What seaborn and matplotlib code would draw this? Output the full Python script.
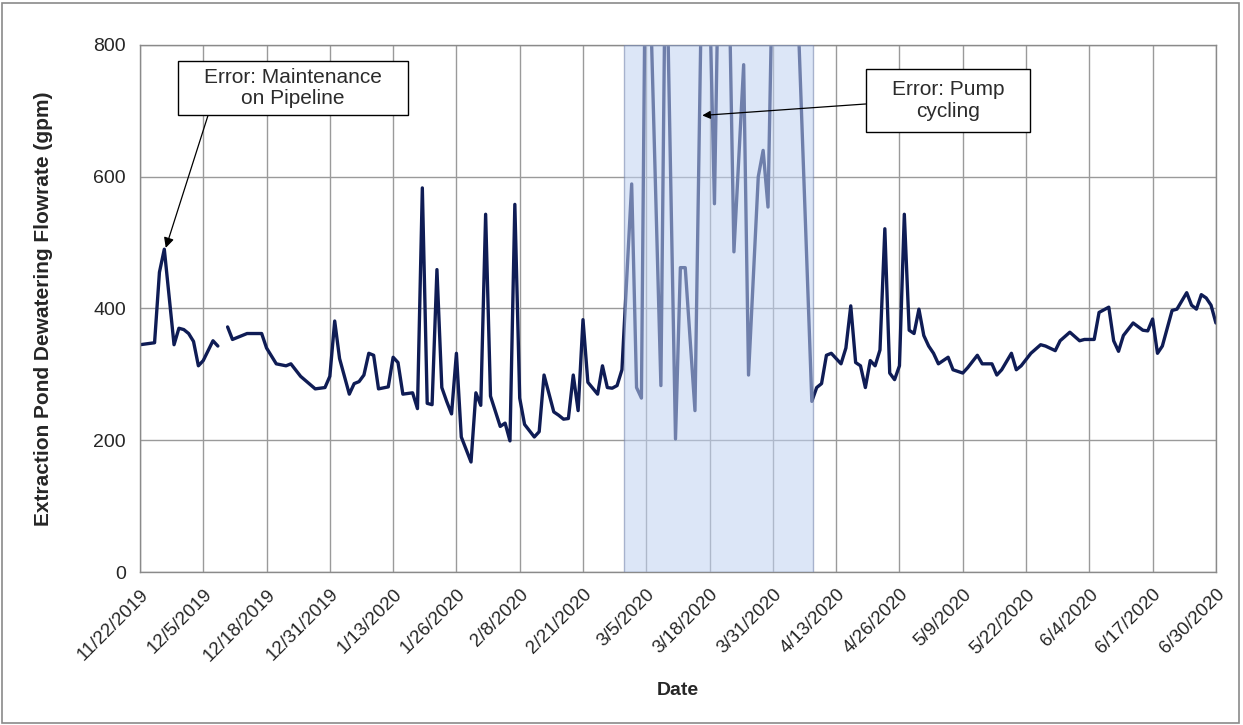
import numpy as np
import pandas as pd
import matplotlib
matplotlib.use("Agg")
import matplotlib.pyplot as plt
from matplotlib.patches import Rectangle
import seaborn as sns

# days after 11/22/2019 and the flowrate read at each vertex (NaN = no data)
START = pd.Timestamp("2019-11-22")
DAY = [0, 3, 4, 5, 7, 8, 9, 10, 11, 12, 13, 15, 16, 17,
       18, 19, 22, 25, 26, 28, 30, 31, 33, 36, 38, 39, 40, 41, 43, 44,
       45, 46, 47, 48, 49, 51, 52, 53, 54, 56, 57, 58, 59, 60, 61, 62,
       63, 64, 65, 66, 68, 69, 70, 71, 72, 74, 75, 76, 77, 78, 79, 81,
       82, 83, 85, 86, 87, 88, 89, 90, 91, 92, 94, 95, 96, 97, 98, 99,
       101, 102, 103, 104, 107, 108, 110, 111, 112, 114, 116, 118, 119,
       121, 122, 124, 125, 127, 128, 129, 130, 133, 135, 138, 139, 140,
       141, 142, 144, 145, 146, 147, 148, 149, 150, 151, 152, 153, 154,
       155, 156, 157, 158, 159, 160, 161, 162, 163, 164, 166, 167, 169,
       170, 172, 173, 175, 176, 177, 179, 180, 181, 183, 185, 186, 188,
       189, 191, 193, 194, 196, 197, 199, 200, 201, 202, 204, 206, 207,
       208, 209, 210, 211, 212, 213, 215, 216, 217, 218, 219, 220, 221]
FLOW = [345, 348, 455, 490, 345, 370, 368, 362, 350, 313, 321, 351, 343, np.nan,
        372, 353, 362, 362, 340, 316, 313, 316, 297, 278, 280, 297, 381, 324, 270, 286,
        289, 299, 332, 329, 278, 281, 326, 318, 270, 272, 248, 583, 256, 254, 459, 280,
        259, 240, 332, 205, 167, 272, 253, 543, 267, 221, 226, 199, 558, 264, 224, 205,
        213, 299, 243, 238, 232, 233, 299, 245, 383, 288, 270, 313, 280, 279, 283, 307,
        589, 280, 264, 1100, 283, 1000, 202, 462, 462, 245, 1200, 559, 1000,
        900, 486, 770, 299, 600, 640, 554, 950, 1100, 880, 259, 280, 286,
        329, 332, 316, 340, 404, 318, 313, 280, 321, 313, 337, 521, 302,
        292, 313, 543, 367, 362, 399, 359, 343, 332, 316, 326, 307, 302,
        310, 329, 316, 316, 299, 307, 332, 307, 313, 332, 345, 343, 336,
        351, 364, 351, 353, 353, 394, 402, 351, 335, 359, 378, 367, 366,
        384, 332, 343, 370, 397, 399, 424, 405, 399, 421, 416, 405, 378]

ERROR_START = "2020-02-29 08:00"
ERROR_END = "2020-04-08 08:00"
END = pd.Timestamp("2020-06-30")

df = pd.DataFrame({"Date": START + pd.to_timedelta(DAY, unit="D"), "Flow": FLOW})
# split at the missing reading so the line breaks there
df["seg"] = df["Flow"].isna().cumsum()
df = df.dropna()

sns.set_style("white")
plt.rcParams["font.family"] = ["Liberation Sans", "DejaVu Sans"]

fig = plt.figure(figsize=(12.43, 7.25), dpi=100)
ax = fig.add_axes([0.1126, 0.211, 0.8656, 0.727])

navy = "#0f1c55"
for _, part in df.groupby("seg"):
    sns.lineplot(data=part, x="Date", y="Flow", ax=ax, color=navy,
                 linewidth=2.4, estimator=None, zorder=2)

# shaded period, drawn over the line so it looks faded
ax.axvspan(pd.Timestamp(ERROR_START), pd.Timestamp(ERROR_END),
           facecolor="#c0d2f2", alpha=0.55, edgecolor="#6f7fa8",
           linewidth=1.0, zorder=3)

ax.set_ylim(0, 800)
ax.set_xlim(START, END)
ax.set_yticks([0, 200, 400, 600, 800])
ticks = pd.date_range(START, END, freq="13D")
ax.set_xticks(ticks)
ax.set_xticklabels([f"{d.month}/{d.day}/{d.year}" for d in ticks],
                   rotation=45, ha="right", rotation_mode="anchor", fontsize=13.5)
ax.tick_params(axis="y", labelsize=14)
ax.tick_params(direction="out", length=6, width=1, color="#808080", pad=4)

ax.grid(True, color="#9a9a9a", linewidth=1)
ax.set_axisbelow(True)
for sp in ax.spines.values():
    sp.set_color("#8a8a8a")
    sp.set_linewidth(1)

ax.set_xlabel("Date", fontsize=14, fontweight="bold", labelpad=13)
ax.set_ylabel("Extraction Pond Dewatering Flowrate (gpm)", fontsize=15,
              fontweight="bold", labelpad=29)

txt_color = "#2b2b2b"
# annotation boxes (axes-fraction corners) with their text and arrows
ax.add_patch(Rectangle((0.0353, 0.867), 0.2137, 0.103, transform=ax.transAxes,
                       facecolor="white", edgecolor="black", linewidth=1, zorder=6))
ax.text(0.142, 0.918, "Error: Maintenance\non Pipeline", transform=ax.transAxes,
        ha="center", va="center", fontsize=15, color=txt_color, zorder=7,
        linespacing=1.15)
ax.annotate("", xy=(START + pd.Timedelta(days=5.3), 492), xycoords="data",
            xytext=(0.0632, 0.866), textcoords="axes fraction",
            arrowprops=dict(arrowstyle="-|>", color="black", lw=0.9,
                            mutation_scale=15, shrinkA=0, shrinkB=0),
            zorder=7)

ax.add_patch(Rectangle((0.6747, 0.835), 0.1523, 0.119, transform=ax.transAxes,
                       facecolor="white", edgecolor="black", linewidth=1, zorder=6))
ax.text(0.751, 0.8945, "Error: Pump\ncycling", transform=ax.transAxes,
        ha="center", va="center", fontsize=15, color=txt_color, zorder=7,
        linespacing=1.2)
ax.annotate("", xy=(START + pd.Timedelta(days=115.5), 693), xycoords="data",
            xytext=(0.6745, 0.888), textcoords="axes fraction",
            arrowprops=dict(arrowstyle="-|>", color="black", lw=0.9,
                            mutation_scale=12, shrinkA=0, shrinkB=0),
            zorder=7)

# outer chart frame
fig.add_artist(Rectangle((0.002, 0.003), 0.995, 0.993, transform=fig.transFigure,
                         fill=False, edgecolor="#8a8a8a", linewidth=1.2))

fig.savefig("out.png", dpi=100)
